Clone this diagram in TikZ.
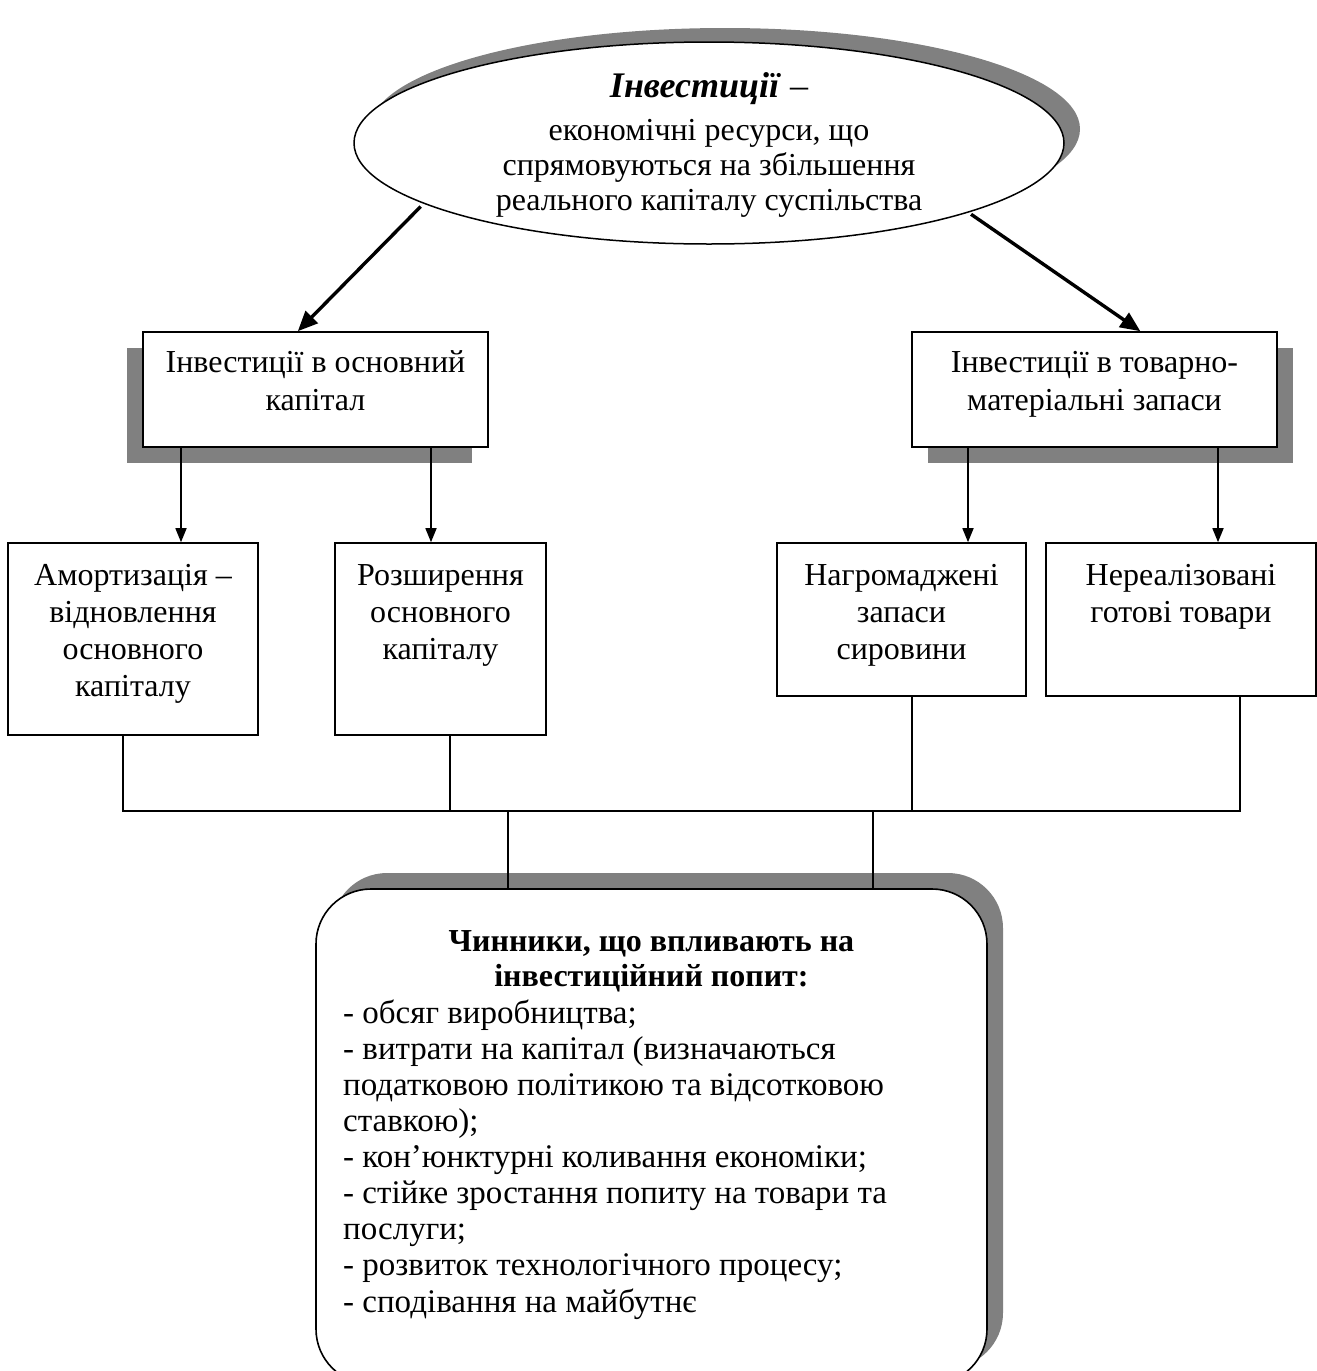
\documentclass[tikz,border=0pt]{standalone}
\usepackage{fontspec}
\setmainfont{Liberation Serif}
\usetikzlibrary{shapes.geometric,arrows.meta,shadows,calc}
\definecolor{shade}{HTML}{808080}
\begin{document}
\begin{tikzpicture}[x=1pt,y=-1pt,
  txt/.style={font=\fontsize{32}{37}\selectfont, inner sep=0pt, align=center},
  frame/.style={draw, line width=1.6pt, fill=white, inner sep=0pt},
  arr/.style={line width=1.6pt, -{Triangle[length=14pt,width=11pt]}},
  bigarr/.style={line width=3.4pt, -{Triangle[length=20pt,width=17pt]}},
  wire/.style={line width=1.6pt}
]
\useasboundingbox (0,0) rectangle (1317,1371);

% ellipse
\node[ellipse, draw, line width=1.5pt, fill=white, minimum width=710pt, minimum height=202pt,
  general shadow={fill=shade, shadow xshift=16pt, shadow yshift=14pt}] (inv) at (709,143) {};
\node[txt, anchor=base] (invt) at (709,97) {\fontsize{36}{40}\selectfont\textbf{\textit{Інвестиції}} –};
\node[txt, anchor=base, font=\fontsize{32}{35}\selectfont] (invd) at (709,210) {економічні ресурси, що\\спрямовуються на збільшення\\реального капіталу суспільства};

% second level
\node[frame, minimum width=345pt, minimum height=115pt,
  general shadow={fill=shade, shadow xshift=-16pt, shadow yshift=-16pt}] (b1) at (315.5,389.5) {};
\node[txt, anchor=base, font=\fontsize{32}{38}\selectfont] (b1t) at (315.5,410) {Інвестиції в основний\\капітал};
\node[frame, minimum width=365pt, minimum height=115pt,
  general shadow={fill=shade, shadow xshift=16pt, shadow yshift=-16pt}] (b2) at (1094.5,389.5) {};
\node[txt, anchor=base, font=\fontsize{32}{38}\selectfont] (b2t) at (1094.5,410) {Інвестиції в товарно-\\матеріальні запаси};

% third level
\node[frame, minimum width=250pt, minimum height=192pt] (a) at (133,639) {};
\node[txt, anchor=base] (at) at (133,696) {Амортизація –\\відновлення\\основного\\капіталу};
\node[frame, minimum width=211pt, minimum height=192pt] (b) at (440.5,639) {};
\node[txt, anchor=base] (bt) at (440.5,659) {Розширення\\основного\\капіталу};
\node[frame, minimum width=249pt, minimum height=153pt] (c) at (901.5,619.5) {};
\node[txt, anchor=base] (ct) at (901.5,659) {Нагромаджені\\запаси\\сировини};
\node[frame, minimum width=270pt, minimum height=153pt] (d) at (1181,619.5) {};
\node[txt, anchor=base] (dt) at (1181,622) {Нереалізовані\\готові товари};

% bottom box
\node[frame, rounded corners=55pt, minimum width=671pt, minimum height=495pt,
  general shadow={fill=shade, shadow xshift=16pt, shadow yshift=16pt}] (f) at (651.5,1136.5) {};
\node[txt, anchor=base, font=\fontsize{32}{35}\selectfont\bfseries] (ft) at (651.5,986) {Чинники, що впливають на\\інвестиційний попит:};
\node[txt, anchor=base west, align=left, font=\fontsize{33}{36.1}\selectfont] (fl) at (343,1312) {- обсяг виробництва;\\- витрати на капітал (визначаються\\податковою політикою та відсотковою\\ставкою);\\- кон’юнктурні коливання економіки;\\- стійке зростання попиту на товари та\\послуги;\\- розвиток технологічного процесу;\\- сподівання на майбутнє};

% arrows from ellipse
\draw[bigarr, shorten <=4pt] (inv.192.6) -- ($(b1.north west)!0.449!(b1.north east)$);
\draw[bigarr, shorten <=3pt] (inv.345.2) -- ($(b2.north west)!0.625!(b2.north east)$);

% arrows to third level
\draw[arr] (b1.south -| 181,0) -- (a.north -| 181,0);
\draw[arr] (b1.south -| 431,0) -- (b.north -| 431,0);
\draw[arr] (b2.south -| 968,0) -- (c.north -| 968,0);
\draw[arr] (b2.south -| 1218,0) -- (d.north -| 1218,0);

% bus
\coordinate (jL) at (123,811);
\coordinate (jR) at (1240,811);
\draw[wire] (a.south -| jL) |- (jR) -- (d.south -| jR);
\draw[wire] (b.south -| 450,0) -- (450,811);
\draw[wire] (c.south -| 912,0) -- (912,811);
\coordinate (d1) at (508,811);
\coordinate (d2) at (873,811);
\draw[wire] (d1) -- (f.north -| d1);
\draw[wire] (d2) -- (f.north -| d2);
\end{tikzpicture}
\end{document}
